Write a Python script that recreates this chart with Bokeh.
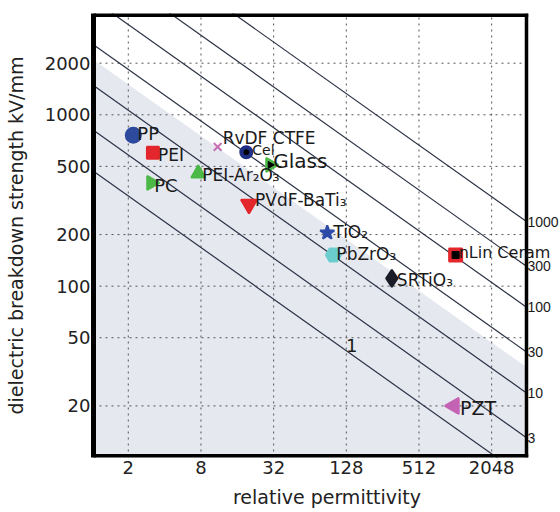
import numpy as np
from bokeh.plotting import figure
from bokeh.models import ColumnDataSource, FixedTicker, PrintfTickFormatter, Range1d
from bokeh.core.properties import value
from bokeh.embed import file_html
from bokeh.resources import INLINE

# ---------------- data ----------------
names = ["PP", "PEI", "PC", "PEI-Ar₂O₃", "RvDF CTFE", "Cel", "Glass",
         "PVdF-BaTi₃", "TiO₂", "PbZrO₃", "SRTiO₃", "nLin Ceram", "PZT"]
permittivity = [2.2, 3.2, 3.1, 7.6, 11, 19, 30, 20, 89, 100, 305, 1030, 1000]
breakdown = [760, 600, 400, 455, 650, 605, 510, 300, 205, 152, 111, 152, 20]

energy_levels = [1, 3, 10, 30, 100, 300, 1000]          # J/cm^3
energy_labels = ["1", "3", "10", "30", "100", "300", "1000"]
shade_level = 20
one_label_eps = 142

x_ticks = [2, 8, 32, 128, 512, 2048]
y_ticks = [20, 50, 100, 200, 500, 1000, 2000]

X_MIN, X_MAX = 1.03, 3980
Y_MIN, Y_MAX = 10, 3900
K = 4.427e-6   # 0.5*eps0 expressed in J/cm^3 per (kV/mm)^2


def strength(u, eps):
    return np.sqrt(u / (K * np.asarray(eps, dtype=float)))


# ---------------- layout / styles ----------------
W, H = 560, 512
LEFT, TOP, BOTTOM = 93, 13, 55
BOX_RIGHT_PX = 526          # where the plot box ends; labels live to its right
ppo = (BOX_RIGHT_PX - LEFT) / np.log2(X_MAX / X_MIN)
x_end = X_MAX * 2 ** ((W - BOX_RIGHT_PX) / ppo)
x_cap = X_MAX * 2 ** (1.75 / ppo)

FONT = "DejaVu Sans"
markers = ["circle", "square", "triangle", "triangle", "x", "circle", "triangle",
           "inverted_triangle", "star", "hex", "diamond", "square", "triangle"]
angles = [0, 0, -np.pi / 2, 0, 0, 0, -np.pi / 2, 0, 0, 0, 0, 0, np.pi / 2]
colors = ["#2d4a9e", "#e3262c", "#4cb848", "#4cb848", "#c46fb4", "#1f2f86", "#4cb848",
          "#e3262c", "#2d4aa8", "#6ccdcf", "#1c1c28", "#e3262c", "#c463b4"]
sizes = [15, 12, 14, 14, 11, 12, 14, 16, 15, 15, 17, 13, 16]
label_dx = [4, 5, 3, 4, 5, 6, 3, 6, 6, 3, 5, 3, 6]
label_dy = [-2, 2, 3, 2, -9, -2, -4, -4, -1, -1, 2, -2, 2]
label_size = ["18px", "17px", "18px", "17px", "17px", "14px", "20px", "17px",
              "17px", "17px", "17px", "16px", "19px"]

p = figure(width=W, height=H, x_axis_type="log", y_axis_type="log",
           x_range=Range1d(X_MIN, x_end), y_range=Range1d(Y_MIN, Y_MAX),
           output_backend="svg", toolbar_location=None,
           min_border_left=LEFT, min_border_right=0, min_border_top=TOP,
           min_border_bottom=BOTTOM)
p.background_fill_color = "white"
p.border_fill_color = "white"
p.outline_line_color = None
p.grid.visible = False

# shaded region below the boundary
xs_edge = [X_MIN, X_MAX]
p.varea(x=xs_edge, y1=[Y_MIN, Y_MIN], y2=list(strength(shade_level, xs_edge)),
        fill_color="#e6e8f0")

# dotted grid inside the box
p.segment(x0=x_ticks, x1=x_ticks, y0=[Y_MIN] * len(x_ticks), y1=[Y_MAX] * len(x_ticks),
          line_color="#555555", line_dash="2 4", line_width=1)
p.segment(x0=[X_MIN] * len(y_ticks), x1=[X_MAX] * len(y_ticks), y0=y_ticks, y1=y_ticks,
          line_color="#555555", line_dash="2 4", line_width=1)

# constant energy density lines
p.multi_line(xs=[xs_edge] * len(energy_levels),
             ys=[list(strength(u, xs_edge)) for u in energy_levels],
             line_color="#2b3245", line_width=1.2)

# box border (top, bottom, right; left is the y axis line)
p.segment(x0=[X_MIN, X_MIN], x1=[x_cap, x_cap], y0=[Y_MAX, Y_MIN], y1=[Y_MAX, Y_MIN],
          line_color="black", line_width=7)
p.segment(x0=[X_MAX], x1=[X_MAX], y0=[Y_MIN], y1=[Y_MAX],
          line_color="black", line_width=3.5)

# markers
src = ColumnDataSource(dict(x=permittivity, y=breakdown, name=names, marker=markers,
                            angle=angles, color=colors, size=sizes, dx=label_dx,
                            dy=label_dy, fs=label_size))
p.scatter(x="x", y="y", marker="marker", angle="angle", size="size",
          fill_color="color", line_color="color", line_width=2, source=src)
inner = [5, 6, 11]
p.scatter(x=[permittivity[i] for i in inner], y=[breakdown[i] for i in inner],
          marker=["circle", "triangle", "square"], angle=[0, -np.pi / 2, 0],
          size=[5, 7, 7], color="black")

p.text(x="x", y="y", text="name", x_offset="dx", y_offset="dy", source=src,
       text_font=value(FONT), text_font_size="fs", text_align="left",
       text_baseline="middle", text_color="#1a1a1a")

# "1" label on lowest line
p.text(x=[one_label_eps], y=[float(strength(energy_levels[0], one_label_eps))],
       text=[energy_labels[0]], y_offset=-9, text_font=value(FONT),
       text_font_size="18px", text_align="center", text_baseline="middle",
       text_color="#1a1a1a")

# labels where the energy lines leave the box on the right
p.text(x=[X_MAX] * (len(energy_levels) - 1),
       y=list(strength(np.array(energy_levels[1:]), X_MAX)),
       text=energy_labels[1:], x_offset=1, text_font=value("Liberation Sans"),
       text_font_size="14px", text_align="left", text_baseline="middle",
       text_color="#1a1a1a")

# axes
p.xaxis.ticker = FixedTicker(ticks=x_ticks)
p.yaxis.ticker = FixedTicker(ticks=y_ticks)
p.xaxis.formatter = PrintfTickFormatter(format="%d")
p.yaxis.formatter = PrintfTickFormatter(format="%d")
for ax in (p.xaxis[0], p.yaxis[0]):
    ax.major_tick_line_color = None
    ax.minor_tick_line_color = None
    ax.major_tick_out = 0
    ax.major_tick_in = 0
    ax.minor_tick_out = 0
    ax.minor_tick_in = 0
    ax.major_label_text_font = FONT
    ax.major_label_text_font_size = "18px"
    ax.major_label_text_color = "#222222"
    ax.axis_label_text_font = FONT
    ax.axis_label_text_font_size = "19px"
    ax.axis_label_text_font_style = "normal"
    ax.axis_label_text_color = "#222222"
p.xaxis.axis_label = "relative permittivity"
p.yaxis.axis_label = "dielectric breakdown strength kV/mm"
p.xaxis.axis_line_color = None
p.yaxis.axis_line_color = "black"
p.yaxis.axis_line_width = 5
p.xaxis.major_label_standoff = 3
p.xaxis.axis_label_standoff = 9
p.yaxis.major_label_standoff = 3
p.yaxis.axis_label_standoff = 15

open("out.html", "w").write(file_html(p, INLINE))
